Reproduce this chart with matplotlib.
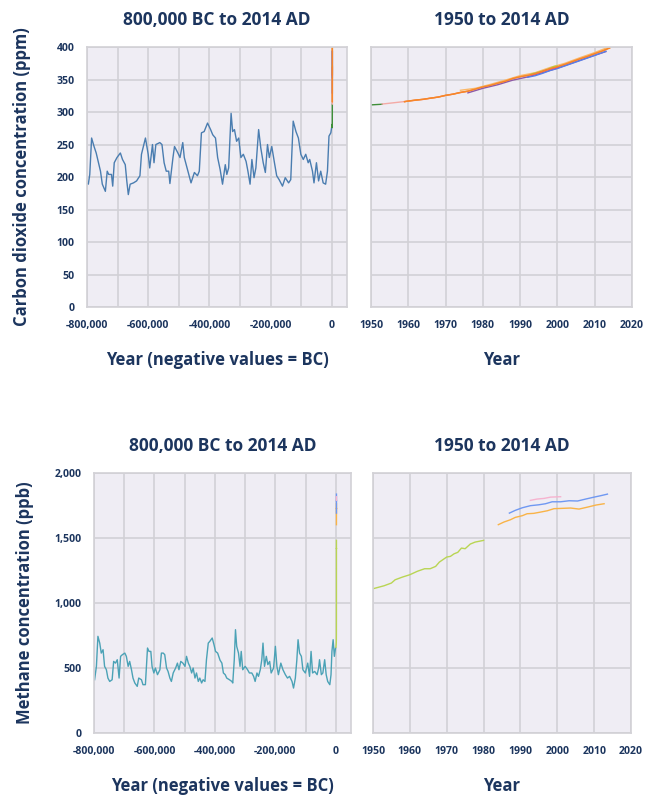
import numpy as np
import matplotlib.pyplot as plt

plt.rcParams['font.family'] = ['Open Sans', 'DejaVu Sans']
plt.rcParams['font.weight'] = 'bold'

navy = '#1c355e'
bg = '#efedf4'
gridc = '#d2d1d6'

# --- CO2, ice cores (year, ppm) ---
co2_ice_year = [-798000, -795700, -791000, -785000, -777000, -770000, -761000, -756000, -750000,
                -740000, -734000, -729000, -720000, -716000, -711000, -702000, -691000, -684000,
                -675000, -670000, -665000, -659000, -648000, -638000, -627000, -622000, -609000,
                -600000, -595000, -586000, -581000, -575000, -562000, -555000, -548000, -541000,
                -533000, -529000, -519000, -514000, -503000, -496000, -487000, -482000, -469000,
                -460000, -449000, -439000, -433000, -426000, -417000, -406000, -396000, -389000,
                -380000, -373000, -365000, -357000, -348000, -343000, -337000, -329000, -324000,
                -318000, -311000, -304000, -297000, -289000, -280000, -274000, -267000, -261000,
                -254000, -248000, -239000, -232000, -224000, -217000, -210000, -204000, -196000,
                -188000, -180000, -172000, -161000, -152000, -141000, -134000, -126000, -117000,
                -109000, -101000, -93000, -85000, -77000, -72000, -63000, -58000, -50000, -43000,
                -36000, -28000, -20000, -14000, -9000, -3000, 0]
co2_ice_ppm = [190, 189, 204, 260, 247, 237, 219, 209, 189,
               178, 209, 204, 204, 186, 222, 230, 237, 227,
               219, 194, 173, 189, 191, 194, 202, 235, 260,
               235, 214, 250, 222, 250, 253, 250, 222, 209,
               209, 190, 230, 247, 237, 230, 253, 230, 207,
               191, 207, 202, 209, 268, 270, 283, 273, 265,
               260, 230, 212, 189, 219, 204, 214, 298, 270,
               273, 255, 260, 230, 235, 224, 209, 189, 227,
               199, 214, 273, 245, 222, 207, 250, 230, 247,
               224, 202, 196, 186, 199, 191, 196, 286, 270,
               260, 235, 227, 235, 222, 227, 209, 191, 222, 194,
               209, 191, 189, 209, 263, 268, 277]

# --- CO2, modern records ---
co2_lawdome_year = [0, 500, 1000, 1300, 1600, 1750, 1800, 1850, 1900, 1930, 1950, 1953]
co2_lawdome_ppm = [277, 278, 280, 281, 276, 277, 283, 285, 296, 307, 311, 312]
co2_siple_year = [1953, 1956, 1960, 1964, 1968, 1972, 1976]
co2_siple_ppm = [312.3, 314.2, 316.8, 319.4, 323.0, 327.6, 332.0]
co2_mlo_year = [1959, 1960, 1962, 1964, 1966, 1968, 1970, 1972, 1974, 1976, 1978, 1980, 1982,
                1984, 1986, 1988, 1990, 1992, 1994, 1996, 1998, 2000, 2002, 2004, 2006, 2008,
                2010, 2012, 2014]
co2_mlo_ppm = [316.0, 316.9, 318.4, 319.6, 321.4, 323.0, 325.7, 327.5, 330.2, 332.1, 335.4, 338.7,
               341.1, 344.4, 347.4, 351.6, 354.4, 356.4, 358.8, 362.6, 366.7, 369.7, 373.5, 377.7,
               381.9, 385.6, 389.9, 393.9, 398.6]
co2_barrow_year = [1974, 1978, 1982, 1986, 1990, 1994, 1998, 2002, 2006, 2010, 2014]
co2_barrow_ppm = [333.5, 336.5, 342.5, 349.0, 356.0, 360.5, 368.5, 375.0, 383.5, 391.5, 400.5]
co2_spo_year = [1976, 1980, 1984, 1988, 1992, 1996, 2000, 2004, 2008, 2013]
co2_spo_ppm = [329.5, 336.5, 342.0, 349.0, 354.0, 360.5, 367.5, 375.5, 383.5, 393.0]
co2_grim_year = [1992, 1994, 1996, 1998, 2000, 2004, 2008, 2013]
co2_grim_ppm = [353.5, 355.8, 359.5, 363.8, 367.0, 375.0, 383.0, 393.5]
co2_lamp_year = [1993, 1995, 1997, 1999, 2000]
co2_lamp_ppm = [358.5, 361.5, 364.8, 370.0, 371.0]
co2_shet_year = [1993, 1995, 1997, 2000]
co2_shet_ppm = [357.0, 360.5, 364.5, 369.0]

# --- CH4, ice cores (year, ppb) ---
ch4_ice_year = [-798000, -792000, -787000, -781000, -776000, -770000, -765000, -759000, -754000,
                -748000, -740000, -735000, -729000, -723000, -717000, -712000, -706000, -698000,
                -693000, -687000, -682000, -676000, -671000, -665000, -657000, -652000, -643000,
                -638000, -630000, -623000, -618000, -612000, -608000, -602000, -597000, -590000,
                -582000, -577000, -571000, -566000, -560000, -555000, -549000, -544000, -538000,
                -530000, -524000, -519000, -513000, -506000, -499000, -494000, -488000, -483000,
                -477000, -472000, -466000, -461000, -455000, -450000, -444000, -439000, -433000,
                -428000, -422000, -417000, -409000, -403000, -398000, -391000, -383000, -377000,
                -372000, -366000, -361000, -352000, -344000, -341000, -336000, -332000, -328000,
                -322000, -317000, -313000, -308000, -300000, -292000, -286000, -278000, -272000,
                -267000, -261000, -256000, -250000, -245000, -241000, -236000, -230000, -225000,
                -219000, -214000, -206000, -200000, -195000, -190000, -182000, -175000, -167000,
                -160000, -153000, -145000, -140000, -134000, -129000, -125000, -120000, -114000,
                -109000, -101000, -93000, -87000, -82000, -77000, -70000, -62000, -57000, -54000,
                -48000, -43000, -37000, -32000, -27000, -20000, -16000, -13000, -9000, -5000, -1000]
ch4_ice_ppb = [410, 513, 744, 692, 615, 641, 513, 487, 423,
               397, 410, 551, 538, 564, 423, 590, 603, 615,
               590, 513, 551, 487, 423, 385, 359, 423, 410,
               372, 372, 654, 628, 628, 513, 462, 500, 449,
               487, 615, 615, 603, 500, 474, 423, 397, 462,
               500, 538, 487, 551, 538, 513, 590, 538, 513,
               462, 500, 423, 462, 397, 423, 385, 410, 397,
               564, 692, 705, 731, 679, 628, 615, 560, 538,
               462, 449, 423, 410, 397, 385, 564, 795, 667,
               615, 513, 628, 487, 513, 487, 462, 462, 436,
               397, 462, 436, 487, 564, 692, 513, 590, 526,
               551, 462, 500, 667, 513, 449, 538, 487, 449,
               423, 436, 397, 346, 423, 564, 718, 615, 590,
               487, 462, 538, 436, 628, 462, 474, 449, 500, 564,
               449, 462, 564, 449, 397, 372, 449, 628, 718, 590, 654]

# --- CH4, modern records ---
ch4_lawdome_year = [0, 1000, 1500, 1700, 1800, 1850, 1900, 1930, 1950, 1953, 1955, 1956, 1958,
                    1960, 1962, 1964, 1965.5, 1967, 1968, 1970, 1971, 1972, 1973, 1974, 1975,
                    1976.4, 1977.7, 1980]
ch4_lawdome_ppb = [660, 680, 700, 720, 760, 800, 880, 980, 1110, 1133, 1154, 1179, 1200,
                   1218, 1244, 1264, 1264, 1282, 1315, 1354, 1359, 1379, 1390, 1423, 1418,
                   1454, 1469, 1482]
ch4_grim_year = [1984, 1985.5, 1987.3, 1988.6, 1990.5, 1991.8, 1993.6, 1995.5, 1997.3, 1999.1,
                 2000.9, 2003.6, 2005.9, 2008.2, 2010.5, 2012.7]
ch4_grim_ppb = [1603, 1623, 1641, 1659, 1672, 1687, 1690, 1700, 1710, 1726, 1728, 1731, 1723,
                1738, 1754, 1764]
ch4_mlo_year = [1987, 1988.6, 1990.5, 1992.7, 1995, 1996.8, 1998.6, 2000.9, 2003.2, 2005.5,
                2007.7, 2010, 2011.8, 2013.6]
ch4_mlo_ppb = [1692, 1713, 1733, 1749, 1756, 1764, 1779, 1779, 1787, 1785, 1800, 1815, 1826,
               1838]
ch4_shet_year = [1992.7, 1994.5, 1996.4, 1998.2, 2000.9]
ch4_shet_ppb = [1790, 1800, 1805, 1815, 1818]

long_ticks = [-800000, -700000, -600000, -500000, -400000, -300000, -200000, -100000, 0]
long_labels = ['-800,000', '', '-600,000', '', '-400,000', '', '-200,000', '', '0']
short_ticks = [1950, 1960, 1970, 1980, 1990, 2000, 2010, 2020]
co2_ticks = [0, 50, 100, 150, 200, 250, 300, 350, 400]
ch4_ticks = [0, 500, 1000, 1500, 2000]
ch4_labels = ['0', '500', '1,000', '1,500', '2,000']

co2_series = [
    (co2_lawdome_year, co2_lawdome_ppm, '#3f8f3a'),
    (co2_siple_year, co2_siple_ppm, '#f4aaa6'),
    (co2_mlo_year, co2_mlo_ppm, '#f7862a'),
    (co2_barrow_year, co2_barrow_ppm, '#fbb868'),
    (co2_spo_year, co2_spo_ppm, '#8e5aa6'),
    (co2_grim_year, co2_grim_ppm, '#5a7fe6'),
    (co2_lamp_year, co2_lamp_ppm, '#b7d03c'),
    (co2_shet_year, co2_shet_ppm, '#e8457c'),
    (co2_mlo_year, co2_mlo_ppm, '#f7862a'),
]
ch4_series = [
    (ch4_lawdome_year, ch4_lawdome_ppb, '#b9d553'),
    (ch4_grim_year, ch4_grim_ppb, '#f9b347'),
    (ch4_mlo_year, ch4_mlo_ppb, '#6f98f2'),
    (ch4_shet_year, ch4_shet_ppb, '#f6b3cf'),
]

fig = plt.figure(figsize=(6.46, 7.96), dpi=100)
ax1 = fig.add_axes([0.1347, 0.6143, 0.4025, 0.3266])
ax2 = fig.add_axes([0.5743, 0.6143, 0.4040, 0.3266])
ax3 = fig.add_axes([0.1455, 0.0791, 0.3978, 0.3266])
ax4 = fig.add_axes([0.5774, 0.0791, 0.3994, 0.3266])


def style(ax):
    ax.set_facecolor(bg)
    for s in ax.spines.values():
        s.set_color(gridc)
        s.set_linewidth(1.2)
    ax.grid(True, color=gridc, linewidth=1.2)
    ax.set_axisbelow(True)
    ax.tick_params(length=0, pad=9, labelsize=7.6, labelcolor=navy)


# Carbon dioxide
ax1.plot(co2_ice_year, co2_ice_ppm, color='#4a7db0', lw=1.0)
for yr, v, c in co2_series:
    ax1.plot(yr, v, color=c, lw=1.0)
    ax2.plot(yr, v, color=c, lw=1.0)

# Methane
ax3.plot(ch4_ice_year, ch4_ice_ppb, color='#4ba2b6', lw=1.0)
for yr, v, c in ch4_series:
    ax3.plot(yr, v, color=c, lw=1.0)
    ax4.plot(yr, v, color=c, lw=1.0)

for ax in (ax1, ax3):
    style(ax)
    ax.set_xlim(-800000, 50000)
    ax.set_xticks(long_ticks)
    ax.set_xticklabels(long_labels)
    ax.set_title('800,000 BC to 2014 AD', fontsize=12.5, color=navy, fontweight='bold', pad=16)
    ax.set_xlabel('Year (negative values = BC)', fontsize=12, color=navy, fontweight='bold',
                  labelpad=15)

for ax in (ax2, ax4):
    style(ax)
    ax.set_xlim(1950, 2020)
    ax.set_xticks(short_ticks)
    ax.tick_params(axis='y', labelleft=False)
    ax.set_title('1950 to 2014 AD', fontsize=12.5, color=navy, fontweight='bold', pad=16)
    ax.set_xlabel('Year', fontsize=12, color=navy, fontweight='bold', labelpad=15)

for ax in (ax1, ax2):
    ax.set_ylim(0, 400)
    ax.set_yticks(co2_ticks)
for ax in (ax3, ax4):
    ax.set_ylim(0, 2000)
    ax.set_yticks(ch4_ticks)
ax1.set_yticklabels([str(t) for t in co2_ticks])
ax3.set_yticklabels(ch4_labels)

ax1.set_ylabel('Carbon dioxide concentration (ppm)', fontsize=12, color=navy,
               fontweight='bold', labelpad=18)
ax3.set_ylabel('Methane concentration (ppb)', fontsize=12, color=navy,
               fontweight='bold', labelpad=15)

fig.savefig('out.png', dpi=100)
